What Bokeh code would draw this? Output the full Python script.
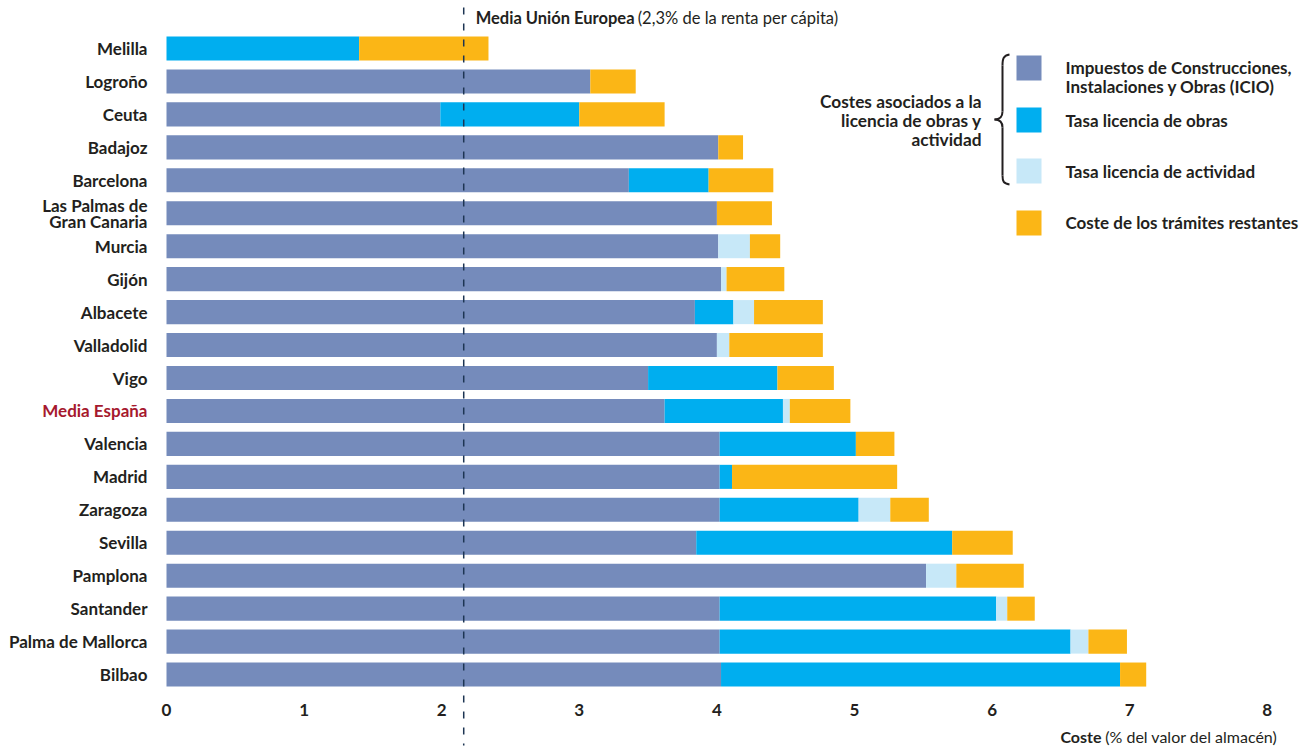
from bokeh.plotting import figure
from bokeh.models import ColumnDataSource, Range1d, Label
from bokeh.core.properties import value
from bokeh.embed import file_html
from bokeh.resources import INLINE

# ---------------- data ----------------
cities = ["Melilla", "Logroño", "Ceuta", "Badajoz", "Barcelona",
          "Las Palmas de\nGran Canaria", "Murcia", "Gijón", "Albacete", "Valladolid",
          "Vigo", "Media España", "Valencia", "Madrid", "Zaragoza",
          "Sevilla", "Pamplona", "Santander", "Palma de Mallorca", "Bilbao"]
icio = [0.00, 3.08, 1.99, 4.01, 3.36, 4.00, 4.01, 4.03, 3.84, 4.00,
        3.50, 3.62, 4.02, 4.02, 4.02, 3.85, 5.52, 4.02, 4.02, 4.03]
tasa_obras = [1.40, 0.00, 1.01, 0.00, 0.58, 0.00, 0.00, 0.00, 0.28, 0.00,
              0.94, 0.86, 0.99, 0.09, 1.01, 1.86, 0.00, 2.01, 2.55, 2.90]
tasa_actividad = [0.00, 0.00, 0.00, 0.00, 0.00, 0.00, 0.23, 0.04, 0.15, 0.09,
                  0.00, 0.05, 0.00, 0.00, 0.23, 0.00, 0.22, 0.08, 0.13, 0.00]
restantes = [0.94, 0.33, 0.62, 0.18, 0.47, 0.40, 0.22, 0.42, 0.50, 0.68,
             0.41, 0.44, 0.28, 1.20, 0.28, 0.44, 0.49, 0.20, 0.28, 0.19]
x_ticks = [0, 1, 2, 3, 4, 5, 6, 7, 8]
x_tick_labels = ["0", "1", "2", "3", "4", "5", "6", "7", "8"]
media_ue = 2.16
highlight = "Media España"

series = ["icio", "obras", "actividad", "restantes"]
series_labels = ["Impuestos de Construcciones,\nInstalaciones y Obras (ICIO)",
                 "Tasa licencia de obras", "Tasa licencia de actividad",
                 "Coste de los trámites restantes"]
colors = ["#758bbb", "#00aeef", "#c7e8f8", "#fbb616"]

# ---------------- styling / layout ----------------
FONT = "Lato"
DARK = "#231f20"
RED = "#a6192e"

n = len(cities)
ypos = [n - 1 - i for i in range(n)]
label_colors = [RED if c == highlight else DARK for c in cities]

ORIGIN = 1          # page pixel where the canvas starts
X0_PX = 167         # page pixel of x = 0
XSCALE = 137.6      # pixels per unit
TOP_ROW_PX = 49     # page pixel of first row centre
ROW = 32.95         # pixels per row
W, H = 1306, 746


def px_x(sx):
    return (sx - X0_PX) / XSCALE


def px_y(sy):
    return (n - 1) - (sy - TOP_ROW_PX) / ROW


x_range = Range1d(px_x(ORIGIN), px_x(ORIGIN + W))
y_range = Range1d(px_y(ORIGIN + H), px_y(ORIGIN))

p = figure(width=W, height=H, x_range=x_range, y_range=y_range,
           output_backend="svg", toolbar_location=None,
           min_border=0, min_border_left=0, min_border_right=0,
           min_border_top=0, min_border_bottom=0)
p.outline_line_color = None
p.grid.visible = False
p.axis.visible = False
p.background_fill_color = "white"
p.border_fill_color = "white"

src = ColumnDataSource(dict(y=ypos, icio=icio, obras=tasa_obras,
                            actividad=tasa_actividad, restantes=restantes))
p.hbar_stack(series, y="y", height=0.73, color=colors, line_color=None, source=src)

# category labels
lab_src = ColumnDataSource(dict(x=[0] * n, y=ypos, text=cities, color=label_colors))
p.text(x="x", y="y", text="text", source=lab_src, x_offset=-19, text_align="right",
       text_baseline="middle", text_font=value(FONT), text_font_style="bold",
       text_font_size="17px", text_color="color", text_line_height=0.78)

# x tick labels
p.text(x=x_ticks, y=[px_y(710)] * len(x_ticks), text=x_tick_labels, text_align="center",
       text_baseline="middle", text_font=value(FONT), text_font_style="bold",
       text_font_size="17px", text_color=DARK)

# EU mean dashed line
p.segment(x0=[media_ue], y0=[px_y(8)], x1=[media_ue], y1=[px_y(746)],
          line_color="#1d3553", line_width=1.5, line_dash="7 9")
p.add_layout(Label(x=media_ue, y=px_y(18), x_offset=12, text="Media Unión Europea",
                   text_baseline="middle", text_font=FONT, text_font_style="bold",
                   text_font_size="16.5px", text_color=DARK))
p.add_layout(Label(x=media_ue, y=px_y(18), x_offset=174, text="(2,3% de la renta per cápita)",
                   text_baseline="middle", text_font=FONT, text_font_style="normal",
                   text_font_size="16.5px", text_color=DARK))

# x axis title
p.add_layout(Label(x=px_x(1278), y=px_y(737), text="(% del valor del almacén)",
                   text_align="right", text_baseline="middle", text_font=FONT,
                   text_font_size="16px", text_color=DARK))
p.add_layout(Label(x=px_x(1102), y=px_y(737), text="Coste",
                   text_align="right", text_baseline="middle", text_font=FONT,
                   text_font_style="bold", text_font_size="16px", text_color=DARK))

# legend (custom)
sq_top = [56, 108, 159, 211]
for i, c in enumerate(colors):
    p.quad(left=px_x(1017), right=px_x(1042), top=px_y(sq_top[i]), bottom=px_y(sq_top[i] + 25),
           color=c, line_color=None)
text_rows = [[68, 87], [121], [172], [223]]
for i, lab in enumerate(series_labels):
    for line, yy in zip(lab.split("\n"), text_rows[i]):
        p.add_layout(Label(x=px_x(1066), y=px_y(yy), text=line, text_baseline="middle",
                           text_font=FONT, text_font_style="bold", text_font_size="17px",
                           text_color=DARK))
for line, yy in zip(["Costes asociados a la", "licencia de obras y", "actividad"], [102, 121, 140]):
    p.add_layout(Label(x=px_x(982), y=px_y(yy), text=line, text_align="right",
                       text_baseline="middle", text_font=FONT, text_font_style="bold",
                       text_font_size="17.3px", text_color=DARK))

# brace
bx = dict(x0=[], y0=[], x1=[], y1=[], cx0=[], cy0=[], cx1=[], cy1=[])
curves = [((1010, 55), (1004, 56), (1003, 59), (1003, 66)),
          ((1003, 112), (1003, 118), (999, 120), (995, 120)),
          ((995, 120), (999, 120), (1003, 122), (1003, 128)),
          ((1003, 176), (1003, 182), (1004, 184), (1010, 185))]
for (a, b, c, d) in curves:
    bx["x0"].append(px_x(a[0])); bx["y0"].append(px_y(a[1]))
    bx["cx0"].append(px_x(b[0])); bx["cy0"].append(px_y(b[1]))
    bx["cx1"].append(px_x(c[0])); bx["cy1"].append(px_y(c[1]))
    bx["x1"].append(px_x(d[0])); bx["y1"].append(px_y(d[1]))
p.bezier(source=ColumnDataSource(bx), x0="x0", y0="y0", x1="x1", y1="y1",
         cx0="cx0", cy0="cy0", cx1="cx1", cy1="cy1", line_color=DARK, line_width=2)
p.segment(x0=[px_x(1003), px_x(1003)], y0=[px_y(66), px_y(128)],
          x1=[px_x(1003), px_x(1003)], y1=[px_y(112), px_y(176)],
          line_color=DARK, line_width=2)

open("out.html", "w").write(file_html(p, INLINE))
